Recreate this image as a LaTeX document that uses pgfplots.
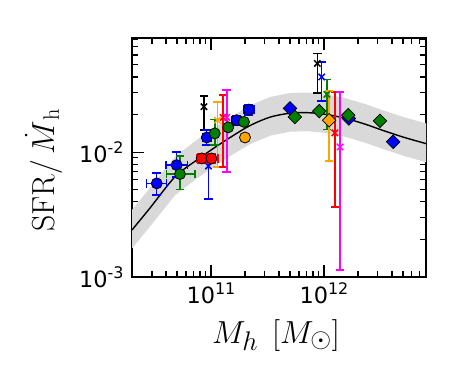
\RequirePackage{fix-cm}
\documentclass[border=0pt]{standalone}
\usepackage{fontspec}
\usepackage{pgfplots}
\pgfplotsset{compat=1.18}
\usepgfplotslibrary{fillbetween}
\newfontfamily\dv{DejaVu Sans}
\newcommand{\tl}[1]{{\dv\fontsize{22.5}{22.5}\selectfont 10\raisebox{0.42em}{\fontsize{16}{16}\selectfont #1}}}
\newcommand{\sub}[1]{\mbox{\fontsize{27}{27}\selectfont$#1$}}
\definecolor{mblue}{rgb}{0,0,1}
\definecolor{mgreen}{rgb}{0,0.5,0}
\definecolor{mred}{rgb}{1,0,0}
\definecolor{morange}{rgb}{1,0.647,0}
\definecolor{mmag}{rgb}{1,0,1}
\definecolor{band}{rgb}{0.85,0.85,0.85}
\pgfplotsset{
  circ/.style={only marks, color=#1, mark=*, mark size=5.5bp,
    mark options={draw=black, line width=0.8bp, fill=#1},
    error bars/.cd, x dir=both, x explicit, y dir=both, y explicit,
    error bar style={line width=1.5bp, #1},
    error mark=-,
    error mark options={line width=1.5bp, #1, mark size=4.3bp, rotate=90}},
  circn/.style={only marks, color=#1, mark=*, mark size=5.5bp,
    mark options={draw=black, line width=0.8bp, fill=#1}},
  xm/.style={only marks, color=#1, mark=x, mark size=4.5bp,
    mark options={line width=1.5bp},
    error bars/.cd, y dir=both, y explicit,
    error bar style={line width=1.5bp, #1},
    error mark=-,
    error mark options={line width=1.5bp, #1, mark size=4.3bp, rotate=90}},
  dia/.style={only marks, color=#1, mark=square*, mark size=4.8bp,
    mark options={draw=black, line width=0.7bp, fill=#1, rotate=45}},
}
\begin{document}
\begin{tikzpicture}
\begin{axis}[
  at={(132bp,102bp)}, anchor=south west,
  width=294bp, height=239bp, scale only axis,
  xmode=log, ymode=log,
  xmin=2e10, xmax=8e12, ymin=1e-3, ymax=0.082,
  axis line style={line width=1.6bp},
  tick align=inside, tick style={line width=1.2bp, black},
  major tick length=12bp, minor tick length=6.5bp,
  xtick={1e11,1e12}, xticklabels={\tl{11},\tl{12}},
  ytick={1e-3,1e-2}, yticklabels={\tl{-3},\tl{-2}},
  minor xtick={3e10,4e10,5e10,6e10,7e10,8e10,9e10,2e11,3e11,4e11,5e11,6e11,7e11,8e11,9e11,2e12,3e12,4e12,5e12,6e12,7e12},
  minor ytick={2e-3,3e-3,4e-3,5e-3,6e-3,7e-3,8e-3,9e-3,2e-2,3e-2,4e-2,5e-2,6e-2,7e-2,8e-2},
  xticklabel style={anchor=north, yshift=-2bp},
  yticklabel style={anchor=east, xshift=-5bp},
  clip=true,
]
\addplot[name path=up, draw=none] coordinates {
(2.0e10,3.45e-3) (2.88e10,5.16e-3) (4.80e10,9.19e-3) (7.47e10,0.01251) (1e11,0.01505) (1.47e11,0.01894) (2.21e11,0.02364) (3.33e11,0.02762) (5.0e11,0.02973) (7.08e11,0.03002) (1.02e12,0.02915) (1.53e12,0.02712) (2.31e12,0.02429) (3.47e12,0.02134) (5.21e12,0.01894) (8.0e12,0.01697)};
\addplot[name path=lo, draw=none] coordinates {
(2.0e10,1.69e-3) (2.88e10,2.53e-3) (4.80e10,4.50e-3) (7.47e10,6.13e-3) (1e11,7.37e-3) (1.47e11,9.27e-3) (2.21e11,0.01157) (3.33e11,0.01353) (5.0e11,0.01456) (7.08e11,0.0147) (1.02e12,0.01427) (1.53e12,0.01328) (2.31e12,0.01189) (3.47e12,0.01045) (5.21e12,0.00927) (8.0e12,0.00831)};
\addplot[band, draw=none] fill between[of=up and lo];
\addplot[black, line width=1.4bp, smooth] coordinates {
(2.0e10,2.38e-3) (2.88e10,3.56e-3) (4.80e10,6.34e-3) (7.47e10,8.63e-3) (1e11,0.01038) (1.47e11,0.01306) (2.21e11,0.0163) (3.33e11,0.01905) (5.0e11,0.0205) (7.08e11,0.0207) (1.02e12,0.0201) (1.53e12,0.0187) (2.31e12,0.01675) (3.47e12,0.01472) (5.21e12,0.01306) (8.0e12,0.0117)};
% X points with errors
\addplot[xm=black] coordinates {
(8.67e10,0.0231) += (0,0.0051) -= (0,0.0081)
(8.73e11,0.0513) += (0,0.0104) -= (0,0.0215)};
\addplot[xm=mblue] coordinates {
(9.5e10,7.73e-3) += (0,0.00122) -= (0,0.00352)
(9.55e11,0.040) += (0,0.0127) -= (0,0.0144)};
\addplot[xm=mgreen] coordinates {
(1.06e12,0.029) += (0,0.0092) -= (0,0.0138)};
\addplot[xm=morange] coordinates {
(1.14e11,0.0180) += (0,0.0071) -= (0,0.01041)};
\addplot[xm=mred] coordinates {
(1.28e11,0.01896) += (0,0.00964) -= (0,0.01134)
(1.25e12,0.01426) += (0,0.01604) -= (0,0.01061)};
\addplot[xm=mmag] coordinates {
(1.38e11,0.019) += (0,0.0123) -= (0,0.01205)
(1.39e12,0.0110) += (0,0.0193) -= (0,0.00986)};
% circles
\addplot[circ=mblue] coordinates {
(3.31e10,5.62e-3) += (0.75e10,1.21e-3) -= (0.61e10,1.09e-3)
(4.97e10,7.87e-3) += (1.25e10,2.18e-3) -= (0.97e10,1.53e-3)
(9.17e10,0.0131) += (0.93e10,0.0019) -= (0.67e10,0.0017)
(1.69e11,0.018) += (0.15e11,0.0017) -= (0.16e11,0.0016)
(2.16e11,0.0219) += (0.24e11,0.0021) -= (0.20e11,0.0020)};
\addplot[circ=mgreen] coordinates {
(5.32e10,6.67e-3) += (1.89e10,2.62e-3) -= (1.26e10,1.64e-3)
(1.08e11,0.01413) += (0,0.0042) -= (0,0.0027)};
\addplot[circn=mgreen] coordinates {(1.42e11,0.01578) (1.96e11,0.01746)};
\addplot[circn=morange] coordinates {(2.0e11,0.0131)};
\addplot[circ=mred] coordinates {
(8.28e10,8.9e-3) += (0.94e10,0.8e-3) -= (0.81e10,0.8e-3)
(1.01e11,8.9e-3) += (1.4e10,0.8e-3) -= (1.25e10,0.8e-3)};
% diamonds
\addplot[dia=mblue] coordinates {(5.0e11,0.0224) (1.66e12,0.0186) (4.1e12,0.0121)};
\addplot[dia=mgreen] coordinates {(5.53e11,0.0191) (9.08e11,0.0213) (1.64e12,0.0198) (3.13e12,0.0178)};
\addplot[dia=morange, error bars/.cd, y dir=both, y explicit,
    error bar style={line width=1.5bp, morange}, error mark=-,
    error mark options={line width=1.5bp, morange, mark size=4.3bp, rotate=90}] coordinates {
(1.11e12,0.018) += (0,0.0128) -= (0,0.00953)};
\end{axis}
\node[anchor=base west, inner sep=0pt, font=\fontsize{32}{32}\selectfont] at (212bp,36bp) {$M_{\sub{h}}\;\,[M_{\sub{\odot}}]$};
\node[anchor=base west, inner sep=0pt, rotate=90, font=\fontsize{32}{32}\selectfont] at (54bp,147bp) {$\mathrm{SFR}/\,\dot{M}_{\,\rm h}$};
\path (0,0) rectangle (474bp,379bp);
\end{tikzpicture}
\end{document}
